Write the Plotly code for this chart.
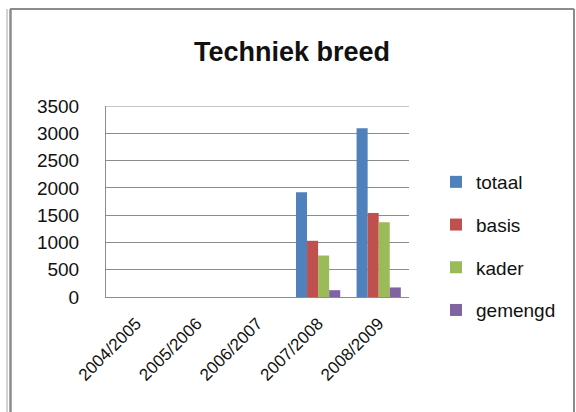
import plotly.graph_objects as go

# School years on the category axis
years = ["2004/2005", "2005/2006", "2006/2007", "2007/2008", "2008/2009"]

# Student counts per stream (no figures before 2007/2008)
totaal = [None, None, None, 1920, 3090]
basis = [None, None, None, 1030, 1540]
kader = [None, None, None, 760, 1370]
gemengd = [None, None, None, 125, 175]

series_names = ["totaal", "basis", "kader", "gemengd"]
series_values = [totaal, basis, kader, gemengd]
series_colors = ["#4F81BD", "#C0504D", "#9BBB59", "#8064A2"]

y_ticks = [0, 500, 1000, 1500, 2000, 2500, 3000, 3500]

FONT = "Liberation Sans"
W, H = 576, 412
L, R, T, B = 106, 167, 106, 115
pw, ph = W - L - R, H - T - B


def px_x(px):
    return (px - L) / pw


def px_y(py):
    return (H - B - py) / ph


fig = go.Figure()
for name, vals, col in zip(series_names, series_values, series_colors):
    fig.add_trace(go.Bar(
        x=years, y=vals, name=name, legendgroup=name,
        marker=dict(color=col, line=dict(width=0)),
    ))

grey = "#8c8c8c"
frame = [
    # double line on the left edge
    dict(x0=px_x(7), x1=px_x(7), y0=px_y(9), y1=px_y(420), w=1, c="#a6a6a6"),
    dict(x0=px_x(10.5), x1=px_x(10.5), y0=px_y(9), y1=px_y(420), w=2.5, c=grey),
    # top and right edges
    dict(x0=px_x(10), x1=px_x(574), y0=px_y(9), y1=px_y(9), w=2, c=grey),
    dict(x0=px_x(574), x1=px_x(574), y0=px_y(9), y1=px_y(420), w=2, c=grey),
]
shapes = [
    dict(type="line", xref="paper", yref="paper",
         x0=f["x0"], x1=f["x1"], y0=f["y0"], y1=f["y1"],
         line=dict(color=f["c"], width=f["w"]))
    for f in frame
]
# gridline at the top of the value axis (plotly skips the one on the edge)
shapes.append(dict(type="line", xref="paper", yref="y", x0=0, x1=1,
                   y0=y_ticks[-1], y1=y_ticks[-1],
                   line=dict(color=grey, width=1), layer="below"))

fig.update_layout(
    width=W, height=H,
    margin=dict(l=L, r=R, t=T, b=B, pad=0),
    paper_bgcolor="white", plot_bgcolor="white",
    barmode="group", bargap=0.27, bargroupgap=0,
    font=dict(family=FONT, size=19, color="#111111"),
    title=dict(text="<b>Techniek breed</b>", xref="container", yref="container",
               x=292 / W, y=1 - 52 / H, xanchor="center", yanchor="middle",
               font=dict(family=FONT, size=27, color="#111111")),
    xaxis=dict(type="category", tickangle=-45, showgrid=False, ticks="",
               showline=True, linecolor=grey, linewidth=1,
               ticklabelstandoff=9, tickfont=dict(size=17)),
    yaxis=dict(range=[0, 3500], tickvals=y_ticks, showgrid=True,
               gridcolor=grey, gridwidth=1, showline=True, linecolor=grey,
               linewidth=1, ticks="", ticklabelstandoff=22, zeroline=False,
               tickfont=dict(size=19)),
    legend=dict(x=px_x(436), y=px_y(163), xanchor="left", yanchor="top",
                tracegroupgap=15, font=dict(size=19), bgcolor="rgba(0,0,0,0)",
                itemwidth=30),
    shapes=shapes,
    showlegend=True,
)

fig.write_html("out.html")
